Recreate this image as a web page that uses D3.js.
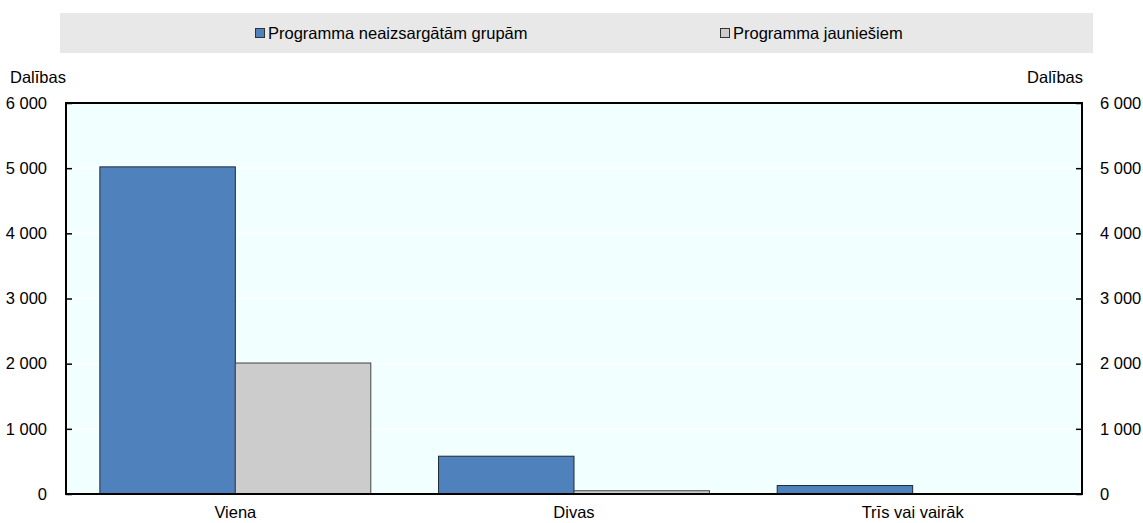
<!DOCTYPE html>
<html>
<head>
<meta charset="utf-8">
<script src="https://cdn.jsdelivr.net/npm/d3@7"></script>
<style>
  html, body { margin: 0; padding: 0; background: #fff; }
  svg text { font-family: "Liberation Sans", Arial, sans-serif; fill: #000; }
</style>
</head>
<body>
<div id="chart"></div>
<script>
// Data
const categories = ['Viena', 'Divas', 'Trīs vai vairāk'];
const seriesNames = ['Programma neaizsargātām grupām', 'Programma jauniešiem'];
const vulnerable = [5020, 580, 130];
const youth = [2010, 50, 3];
const yTicks = [0, 1000, 2000, 3000, 4000, 5000, 6000];
const axisTitle = 'Dalības';
const colors = ['#4f81bd', '#cccccc'];

const width = 1143, height = 523;
const plot = { left: 66, right: 1082, top: 103, bottom: 494 };
const fontSize = '16.5px';

const svg = d3.select('#chart').append('svg')
    .attr('width', width)
    .attr('height', height);

// Legend box
svg.append('rect')
    .attr('x', 60).attr('y', 13)
    .attr('width', 1033).attr('height', 40)
    .attr('fill', '#e8e8e8');

const legendX = [255, 720];
seriesNames.forEach((name, i) => {
    const lg = svg.append('g').attr('transform', `translate(${legendX[i]},28)`);
    lg.append('rect')
        .attr('x', 0.5).attr('y', 0.5)
        .attr('width', 9).attr('height', 9)
        .attr('fill', colors[i])
        .attr('stroke', '#333').attr('stroke-width', 1);
    lg.append('text')
        .attr('x', 13).attr('y', 11)
        .attr('font-size', fontSize)
        .text(name);
});

// Scales
const x = d3.scaleBand()
    .domain(categories)
    .range([plot.left, plot.right])
    .paddingInner(0.2)
    .paddingOuter(0.1);

const xInner = d3.scaleBand()
    .domain(seriesNames)
    .range([0, x.bandwidth()]);

const y = d3.scaleLinear()
    .domain([0, 6000])
    .range([plot.bottom, plot.top]);

// Plot background
svg.append('rect')
    .attr('x', plot.left).attr('y', plot.top)
    .attr('width', plot.right - plot.left)
    .attr('height', plot.bottom - plot.top)
    .attr('fill', '#f2ffff');

// Gridlines
svg.append('g')
    .selectAll('line')
    .data(yTicks.filter(d => d > 0 && d < 6000))
    .join('line')
    .attr('x1', plot.left).attr('x2', plot.right)
    .attr('y1', d => y(d)).attr('y2', d => y(d))
    .attr('stroke', '#ffffff').attr('stroke-width', 1.5);

// Bars
const rows = categories.map((c, i) => ({ cat: c, values: [vulnerable[i], youth[i]] }));

const groups = svg.append('g')
    .selectAll('g')
    .data(rows)
    .join('g')
    .attr('transform', d => `translate(${x(d.cat)},0)`);

groups.selectAll('rect')
    .data(d => d.values.map((v, i) => ({ series: seriesNames[i], value: v, idx: i })))
    .join('rect')
    .attr('x', d => xInner(d.series))
    .attr('y', d => y(d.value))
    .attr('width', xInner.bandwidth())
    .attr('height', d => y(0) - y(d.value))
    .attr('fill', d => colors[d.idx])
    .attr('stroke', d => d.idx === 0 ? '#1f2a36' : '#444')
    .attr('stroke-width', 1);

// Left axis
const fmt = d => d3.format(',')(d).replace(/,/g, ' ');

const gl = svg.append('g')
    .attr('transform', `translate(${plot.left},0)`)
    .call(d3.axisLeft(y).tickValues(yTicks).tickSize(-6).tickPadding(19).tickFormat(fmt));

// Right axis
const gr = svg.append('g')
    .attr('transform', `translate(${plot.right},0)`)
    .call(d3.axisRight(y).tickValues(yTicks).tickSize(-6).tickPadding(18).tickFormat(fmt));

[gl, gr].forEach(g => {
    g.select('.domain').remove();
    g.selectAll('.tick line').attr('stroke', '#000').attr('stroke-width', 1.5);
    g.selectAll('.tick text')
        .attr('font-size', fontSize)
        .attr('font-family', null);
});

// Frame
svg.append('rect')
    .attr('x', plot.left).attr('y', plot.top)
    .attr('width', plot.right - plot.left)
    .attr('height', plot.bottom - plot.top)
    .attr('fill', 'none')
    .attr('stroke', '#000').attr('stroke-width', 2);

// Category labels
svg.append('g')
    .selectAll('text')
    .data(categories)
    .join('text')
    .attr('x', d => x(d) + x.bandwidth() / 2)
    .attr('y', 518)
    .attr('text-anchor', 'middle')
    .attr('font-size', fontSize)
    .text(d => d);

// Axis titles
svg.append('text')
    .attr('x', 10).attr('y', 83)
    .attr('font-size', fontSize)
    .text(axisTitle);

svg.append('text')
    .attr('x', 1083).attr('y', 83)
    .attr('text-anchor', 'end')
    .attr('font-size', fontSize)
    .text(axisTitle);
</script>
</body>
</html>
